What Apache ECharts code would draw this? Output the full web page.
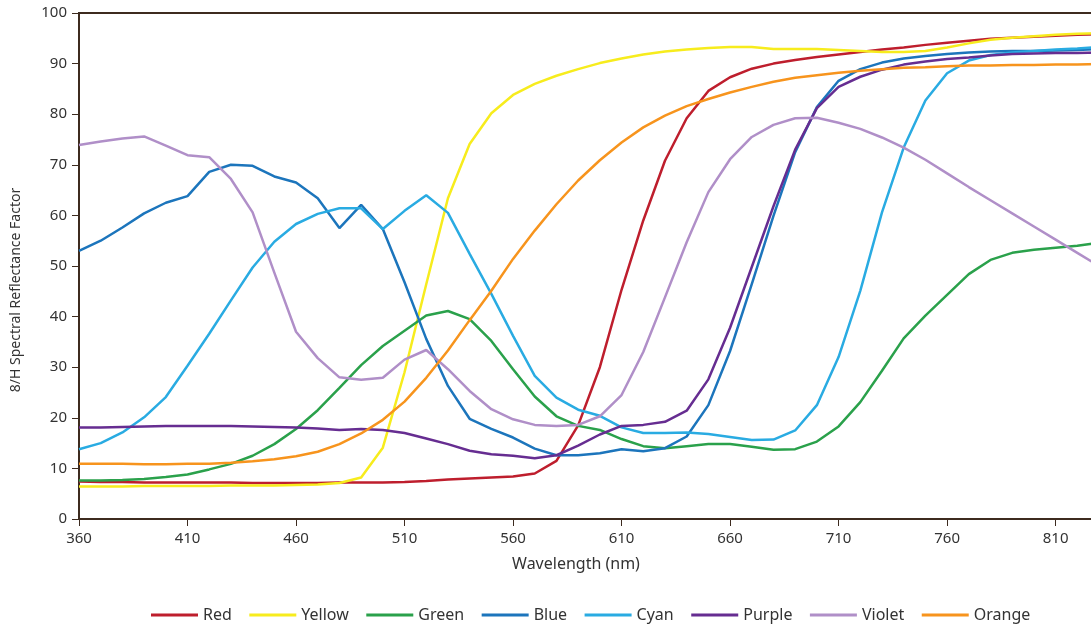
<!DOCTYPE html>
<html>
<head>
<meta charset="utf-8">
<script src="https://cdn.jsdelivr.net/npm/echarts@6/dist/echarts.min.js"></script>
<style>
html,body{margin:0;padding:0;background:#fff;overflow:hidden;width:1091px;height:626px;}
#chart{width:1120px;height:626px;}
</style>
</head>
<body>
<div id="chart"></div>
<script>
const wavelengths = ['360','370','380','390','400','410','420','430','440','450','460','470','480','490','500','510','520','530','540','550','560','570','580','590','600','610','620','630','640','650','660','670','680','690','700','710','720','730','740','750','760','770','780','790','800','810','820','830'];

const red = [7.4,7.3,7.3,7.2,7.2,7.2,7.2,7.2,7.1,7.1,7.1,7.1,7.2,7.2,7.2,7.3,7.5,7.8,8.0,8.2,8.4,9.0,11.5,18.5,30.0,45.3,59.0,70.8,79.2,84.6,87.3,89.0,90.0,90.7,91.3,91.8,92.3,92.8,93.2,93.7,94.1,94.5,94.9,95.1,95.3,95.5,95.7,95.8];
const yellow = [6.4,6.4,6.4,6.5,6.5,6.5,6.5,6.6,6.6,6.6,6.7,6.8,7.1,8.2,14.1,29.0,46.4,63.4,74.1,80.2,83.8,86.0,87.6,88.9,90.1,91.0,91.8,92.4,92.8,93.1,93.3,93.3,92.9,92.9,92.9,92.7,92.5,92.3,92.3,92.5,93.2,94.0,94.7,95.1,95.4,95.7,95.9,96.0];
const green = [7.6,7.6,7.7,7.9,8.3,8.8,9.8,10.9,12.5,14.8,17.8,21.5,25.9,30.4,34.2,37.2,40.2,41.1,39.5,35.2,29.6,24.2,20.3,18.4,17.6,15.8,14.4,14.0,14.4,14.8,14.8,14.3,13.7,13.8,15.3,18.3,23.1,29.3,35.7,40.2,44.3,48.4,51.2,52.6,53.2,53.6,54.0,54.6];
const blue = [53.0,55.0,57.6,60.4,62.5,63.8,68.6,70.0,69.8,67.7,66.5,63.4,57.5,62.1,57.3,46.8,35.6,26.3,19.8,17.8,16.1,13.9,12.6,12.6,13.0,13.8,13.4,14.0,16.3,22.5,33.2,46.4,59.9,72.5,81.4,86.6,88.9,90.2,91.0,91.5,91.9,92.2,92.4,92.5,92.5,92.6,92.7,92.9];
const cyan = [13.8,15.0,17.1,20.1,24.1,30.3,36.6,43.2,49.7,54.8,58.3,60.3,61.4,61.4,57.3,60.9,64.0,60.5,52.4,44.5,36.2,28.3,24.0,21.6,20.4,18.1,17.0,17.0,17.1,16.8,16.2,15.6,15.7,17.5,22.5,32.0,45.1,60.6,73.4,82.7,88.1,90.6,91.7,92.2,92.5,92.8,93.0,93.3];
const purple = [18.1,18.1,18.2,18.3,18.4,18.4,18.4,18.4,18.3,18.2,18.1,17.9,17.6,17.8,17.6,17.0,15.9,14.8,13.5,12.8,12.5,12.0,12.6,14.5,16.7,18.4,18.6,19.2,21.4,27.6,37.8,49.8,61.8,73.0,81.2,85.4,87.4,88.8,89.8,90.4,90.9,91.2,91.6,91.9,92.0,92.1,92.1,92.2];
const violet = [73.9,74.6,75.2,75.6,73.8,71.9,71.5,67.2,60.6,48.7,37.0,31.8,28.0,27.5,27.9,31.5,33.4,29.6,25.3,21.7,19.7,18.6,18.4,18.6,20.3,24.5,33.0,43.8,54.7,64.6,71.1,75.5,77.9,79.2,79.3,78.3,77.1,75.4,73.4,71.0,68.3,65.6,63.0,60.4,57.8,55.2,52.6,50.0];
const orange = [10.9,10.9,10.9,10.8,10.8,10.9,10.9,11.1,11.4,11.8,12.4,13.3,14.8,16.9,19.6,23.2,27.9,33.3,39.3,45.1,51.4,57.0,62.2,66.9,70.9,74.4,77.4,79.7,81.6,83.0,84.3,85.4,86.4,87.2,87.7,88.2,88.6,88.9,89.2,89.3,89.5,89.6,89.6,89.7,89.7,89.8,89.8,89.9];

const seriesNames = ['Red','Yellow','Green','Blue','Cyan','Purple','Violet','Orange'];
const seriesData = [red, yellow, green, blue, cyan, purple, violet, orange];
const seriesColors = ['#be1e2d','#f7ec1d','#2aa14b','#1c75bc','#29abe2','#662d91','#b08fc8','#f7941d'];

const font = '"Noto Sans", "Open Sans", sans-serif';
const axisColor = '#3d2b1f';
const textColor = '#333333';

const chart = echarts.init(document.getElementById('chart'), null, {renderer: 'canvas'});
chart.setOption({
  animation: false,
  backgroundColor: '#ffffff',
  textStyle: {fontFamily: font},
  grid: {left: 79, top: 13, right: 21, bottom: 107, show: true, borderColor: axisColor, borderWidth: 2, backgroundColor: 'transparent'},
  legend: {
    data: seriesNames,
    left: 146,
    top: 602,
    icon: 'rect',
    itemWidth: 47,
    itemHeight: 3,
    itemGap: 17.5,
    textStyle: {fontFamily: font, fontSize: 16, color: textColor}
  },
  xAxis: {
    type: 'category',
    data: wavelengths,
    boundaryGap: false,
    name: 'Wavelength (nm)',
    nameLocation: 'middle',
    nameGap: 37,
    nameTextStyle: {fontFamily: font, fontSize: 16, color: textColor, padding: [0, 26, 0, 0]},
    axisLine: {lineStyle: {color: axisColor, width: 2}},
    axisTick: {show: true, interval: 4, length: 7, lineStyle: {color: axisColor, width: 1}},
    axisLabel: {interval: 4, margin: 12, fontFamily: font, fontSize: 15, color: textColor},
    splitLine: {show: false}
  },
  yAxis: {
    type: 'value',
    min: 0,
    max: 100,
    interval: 10,
    name: '8/H Spectral Reflectance Factor',
    nameLocation: 'middle',
    nameGap: 56,
    nameTextStyle: {fontFamily: font, fontSize: 14, color: textColor, padding: [0, 48, 0, 0]},
    axisLine: {show: true, lineStyle: {color: axisColor, width: 2}},
    axisTick: {show: true, length: 7, lineStyle: {color: axisColor, width: 1}},
    axisLabel: {margin: 12, fontFamily: font, fontSize: 15, color: textColor},
    splitLine: {show: false}
  },
  series: seriesNames.map((name, i) => ({
    name: name,
    type: 'line',
    data: seriesData[i],
    showSymbol: false,
    symbol: 'none',
    smooth: false,
    clip: true,
    lineStyle: {color: seriesColors[i], width: 2.5},
    itemStyle: {color: seriesColors[i]}
  }))
});
</script>
</body>
</html>
